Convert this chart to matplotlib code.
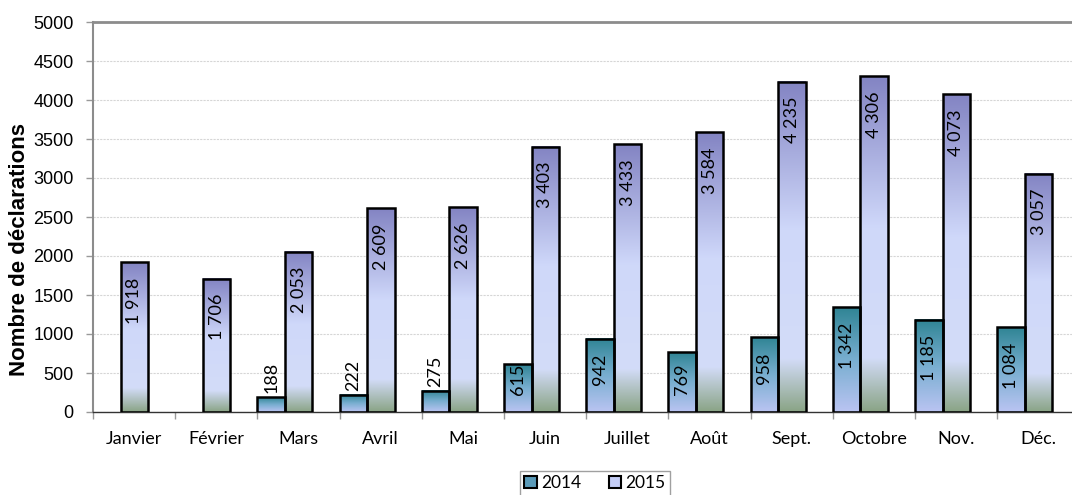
import numpy as np
import matplotlib
matplotlib.use("Agg")
import matplotlib.pyplot as plt
from matplotlib.colors import LinearSegmentedColormap
from matplotlib.patches import Patch

months = ['Janvier', 'Février', 'Mars', 'Avril', 'Mai', 'Juin', 'Juillet',
          'Août', 'Sept.', 'Octobre', 'Nov.', 'Déc.']
v2014 = [None, None, 188, 222, 275, 615, 942, 769, 958, 1342, 1185, 1084]
v2015 = [1918, 1706, 2053, 2609, 2626, 3403, 3433, 3584, 4235, 4306, 4073, 3057]
yticks = [0, 500, 1000, 1500, 2000, 2500, 3000, 3500, 4000, 4500, 5000]

# gradients, top -> bottom
cm14 = LinearSegmentedColormap.from_list(
    'g14', [(0, '#2f8494'), (0.5, '#78aed0'), (1, '#bac4f2')])
cm15 = LinearSegmentedColormap.from_list(
    'g15', [(0, '#8384c3'), (0.45, '#cfd8fa'), (0.84, '#d3dcf8'), (1, '#8aa486')])

W, H = 1072, 495
fig = plt.figure(figsize=(W / 100, H / 100), dpi=100)
ax = fig.add_axes([93 / W, (H - 412) / H, 986.4 / W, 390 / H])

bw = 0.335
grad = np.linspace(0, 1, 256)[:, None]


def draw_bars(vals, off, cmap):
    for i, v in enumerate(vals):
        if v is None:
            continue
        x0 = i + off
        ax.imshow(grad, cmap=cmap, extent=(x0, x0 + bw, 0, v), aspect='auto',
                  interpolation='bilinear', zorder=2)
        ax.bar(x0, v, width=bw, align='edge', facecolor='none',
               edgecolor='black', lw=1.8, zorder=3)


draw_bars(v2014, 0.0, cm14)
draw_bars(v2015, bw, cm15)

ax.set_xlim(0, 12)
ax.set_ylim(0, 5000)
ax.set_yticks(yticks)
ax.set_yticklabels([str(t) for t in yticks], fontfamily='Liberation Sans', fontsize=13)
ax.tick_params(axis='y', length=5, width=1, color='#999999', pad=9)
ax.set_xticks(np.arange(12) + 0.5)
ax.set_xticklabels(months, fontfamily='Lato', fontsize=13)
ax.set_xticks(np.arange(13), minor=True)
ax.tick_params(axis='x', which='major', length=0, pad=14)
ax.tick_params(axis='x', which='minor', length=5, width=1, color='#999999')
ax.grid(axis='y', color='#d6d6d6', lw=0.8, ls=(0, (2, 1)), zorder=0)
ax.set_axisbelow(True)
ax.spines['top'].set_color('#8c8c8c')
ax.spines['top'].set_linewidth(2)
ax.spines['left'].set_color('#8c8c8c')
ax.spines['left'].set_linewidth(1.5)
ax.spines['bottom'].set_color('#333333')
ax.spines['bottom'].set_linewidth(1)
ax.spines['right'].set_visible(False)

fig.text(20 / W, 1 - 249 / H, 'Nombre de déclarations', rotation=90,
         fontfamily='Liberation Sans', fontweight='bold', fontsize=16,
         ha='center', va='center')


def fmt(v):
    return f"{v:,}".replace(",", " ")


# data labels
fig.canvas.draw()
r = fig.canvas.get_renderer()
base_px = ax.transData.transform((0, 0))[1]
for vals, off in ((v2014, 0.0), (v2015, bw)):
    for i, v in enumerate(vals):
        if v is None:
            continue
        xc = i + off + bw / 2
        t = ax.annotate(fmt(v), (xc, v), xytext=(0, -15), textcoords='offset pixels',
                        rotation=90, ha='center', va='top', fontfamily='Lato',
                        fontsize=13, zorder=5)
        bb = t.get_window_extent(r)
        top_px = ax.transData.transform((0, v))[1]
        if top_px - base_px < bb.height:
            t.xyann = (0, 4)
            t.set_va('bottom')
        elif bb.y0 < base_px + 17:
            t.xy = (xc, 0)
            t.xyann = (0, 17)
            t.set_va('bottom')

handles = [Patch(facecolor='#5a9ab8', edgecolor='black', lw=1.5),
           Patch(facecolor='#c4cdf6', edgecolor='black', lw=1.5)]
leg = fig.legend(handles, ['2014', '2015'], loc='upper center',
                 bbox_to_anchor=(595 / W, 1 - 471 / H), borderaxespad=0, ncol=2,
                 frameon=True, fancybox=False, edgecolor='#888888',
                 prop={'family': 'Lato', 'size': 12.5},
                 handlelength=0.7, handleheight=0.7, handletextpad=0.25,
                 columnspacing=1.6, borderpad=0.25)
leg.get_frame().set_linewidth(1)

fig.savefig('out.png', dpi=100)
